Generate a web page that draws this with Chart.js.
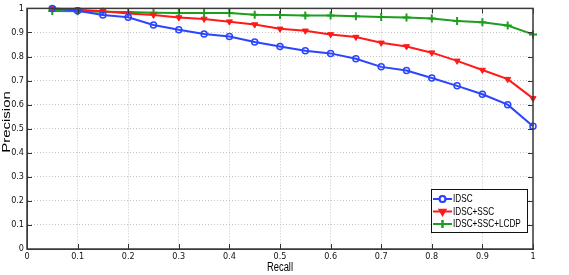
<!DOCTYPE html>
<html>
<head>
<meta charset="utf-8">
<script src="https://cdn.jsdelivr.net/npm/chart.js@4.4.1/dist/chart.umd.min.js"></script>
<style>
  html, body { margin: 0; padding: 0; background: #fff; }
  #wrap { width: 569px; height: 275px; }
</style>
</head>
<body>
<div id="wrap"><canvas id="pr"></canvas></div>
<script>
var recall = [0.05, 0.1, 0.15, 0.2, 0.25, 0.3, 0.35, 0.4, 0.45, 0.5, 0.55, 0.6, 0.65, 0.7, 0.75, 0.8, 0.85, 0.9, 0.95, 1.0]
var idsc = [1.0, 0.99, 0.973, 0.963, 0.931, 0.911, 0.894, 0.883, 0.86, 0.842, 0.824, 0.813, 0.791, 0.757, 0.742, 0.711, 0.678, 0.643, 0.6, 0.51]
var idsc_ssc = [1.0, 0.994, 0.988, 0.979, 0.973, 0.962, 0.956, 0.945, 0.933, 0.915, 0.907, 0.892, 0.881, 0.857, 0.842, 0.816, 0.782, 0.744, 0.706, 0.626]
var idsc_ssc_lcdp = [0.989, 0.988, 0.986, 0.985, 0.982, 0.981, 0.981, 0.981, 0.974, 0.973, 0.971, 0.97, 0.967, 0.964, 0.962, 0.958, 0.948, 0.942, 0.929, 0.892]
var series_names = ['IDSC', 'IDSC+SSC', 'IDSC+SSC+LCDP']

var tickFont = { family: '"Liberation Sans Narrow", "DejaVu Sans Condensed", sans-serif', size: 9 }

function pts(ys) {
    return recall.map(function (x, i) { return { x: x, y: ys[i] } })
}

// MATLAB style: inner ticks on all four sides, box, axis titles, legend in the corner
var matlabAxes = {
    id: 'matlabAxes',
    afterDraw: function (chart) {
        var ctx = chart.ctx, a = chart.chartArea
        var xs = chart.scales.x, ys = chart.scales.y
        ctx.save()
        ctx.strokeStyle = '#333'
        ctx.lineWidth = 1
        for (var v = 0; v <= 10; v++) {
            var px = Math.round(xs.getPixelForValue(v / 10)) + 0.5
            ctx.beginPath()
            ctx.moveTo(px, a.bottom); ctx.lineTo(px, a.bottom - 5)
            ctx.moveTo(px, a.top); ctx.lineTo(px, a.top + 5)
            ctx.stroke()
            var py = Math.round(ys.getPixelForValue(v / 10)) + 0.5
            ctx.beginPath()
            ctx.moveTo(a.left, py); ctx.lineTo(a.left + 5, py)
            ctx.moveTo(a.right, py); ctx.lineTo(a.right - 5, py)
            ctx.stroke()
        }
        ctx.lineWidth = 1.5
        ctx.strokeStyle = '#3a3a3a'
        ctx.strokeRect(a.left, a.top, a.right - a.left, a.bottom - a.top)

        // axis titles
        ctx.fillStyle = '#000'
        ctx.textAlign = 'center'
        ctx.textBaseline = 'middle'
        ctx.save()
        ctx.translate(280, 268)
        ctx.scale(0.75, 1)
        ctx.font = '12.5px "Liberation Sans", Arial, sans-serif'
        ctx.fillText('Recall', 0, 0)
        ctx.restore()
        ctx.save()
        ctx.translate(7, 122)
        ctx.scale(0.72, 1)
        ctx.rotate(-Math.PI / 2)
        ctx.font = '15px "Liberation Sans", Arial, sans-serif'
        ctx.fillText('Precision', 0, 0)
        ctx.restore()

        // legend
        var lx = 431, ly = 189, lw = 96, lh = 43
        ctx.fillStyle = '#fff'
        ctx.fillRect(lx, ly, lw, lh)
        ctx.lineWidth = 1
        ctx.strokeStyle = '#111'
        ctx.strokeRect(lx + 0.5, ly + 0.5, lw, lh)
        chart.data.datasets.forEach(function (ds, i) {
            var ry = ly + 10 + i * 12.5
            ctx.strokeStyle = ds.borderColor
            ctx.lineWidth = 2
            ctx.beginPath(); ctx.moveTo(lx + 2, ry); ctx.lineTo(lx + 21, ry); ctx.stroke()
            Chart.helpers.drawPoint(ctx, {
                pointStyle: ds.pointStyle, rotation: ds.pointRotation || 0,
                radius: ds.pointRadius, borderWidth: ds.pointBorderWidth
            }, lx + 11.5, ry)
            ctx.fillStyle = ds.pointBackgroundColor
            ctx.strokeStyle = ds.borderColor
            ctx.lineWidth = ds.pointBorderWidth
            ctx.fill(); ctx.stroke()
            ctx.save()
            ctx.fillStyle = '#000'
            ctx.textAlign = 'left'
            ctx.textBaseline = 'middle'
            ctx.translate(lx + 22, ry + 0.5)
            ctx.scale(0.78, 1)
            ctx.font = '10.5px "Liberation Sans", Arial, sans-serif'
            ctx.fillText(series_names[i], 0, 0)
            ctx.restore()
        })
        ctx.restore()
    }
}

new Chart(document.getElementById('pr'), {
    type: 'line',
    data: {
        datasets: [
            {
                label: series_names[0],
                data: pts(idsc),
                borderColor: '#2b45ff',
                pointBackgroundColor: 'rgba(0,0,0,0)',
                pointBorderColor: '#2b45ff',
                pointStyle: 'circle',
                pointRadius: 3,
                pointBorderWidth: 1.5,
                borderWidth: 2,
                clip: false
            },
            {
                label: series_names[1],
                data: pts(idsc_ssc),
                borderColor: '#ff1a1a',
                pointBackgroundColor: '#ff1a1a',
                pointBorderColor: '#ff1a1a',
                pointStyle: 'triangle',
                pointRotation: 180,
                pointRadius: 3.5,
                pointBorderWidth: 1,
                borderWidth: 2,
                clip: false
            },
            {
                label: series_names[2],
                data: pts(idsc_ssc_lcdp),
                borderColor: '#1e9e1e',
                pointBackgroundColor: '#1e9e1e',
                pointBorderColor: '#1e9e1e',
                pointStyle: 'cross',
                pointRadius: 4,
                pointBorderWidth: 2,
                borderWidth: 2,
                clip: false
            }
        ]
    },
    options: {
        responsive: true,
        maintainAspectRatio: false,
        animation: false,
        layout: { padding: { top: 6, right: 36, left: 0, bottom: 0 } },
        plugins: { legend: { display: false }, tooltip: { enabled: false } },
        elements: { line: { tension: 0 } },
        scales: {
            x: {
                type: 'linear',
                min: 0, max: 1,
                afterFit: function (s) { s.height = 26 },
                ticks: {
                    stepSize: 0.1,
                    padding: 2,
                    color: '#111',
                    font: tickFont,
                    maxRotation: 0,
                    callback: function (v) { return +v.toFixed(1) }
                },
                grid: { color: '#c4c4c4', lineWidth: 1, drawTicks: false },
                border: { display: true, color: '#3a3a3a', dash: [1, 2] }
            },
            y: {
                min: 0, max: 1,
                afterFit: function (s) { s.width = 27 },
                ticks: {
                    stepSize: 0.1,
                    padding: 3,
                    color: '#111',
                    font: tickFont,
                    callback: function (v) { return +v.toFixed(1) }
                },
                grid: { color: '#c4c4c4', lineWidth: 1, drawTicks: false },
                border: { display: true, color: '#3a3a3a', dash: [1, 2] }
            }
        }
    },
    plugins: [matlabAxes]
});
</script>
</body>
</html>
